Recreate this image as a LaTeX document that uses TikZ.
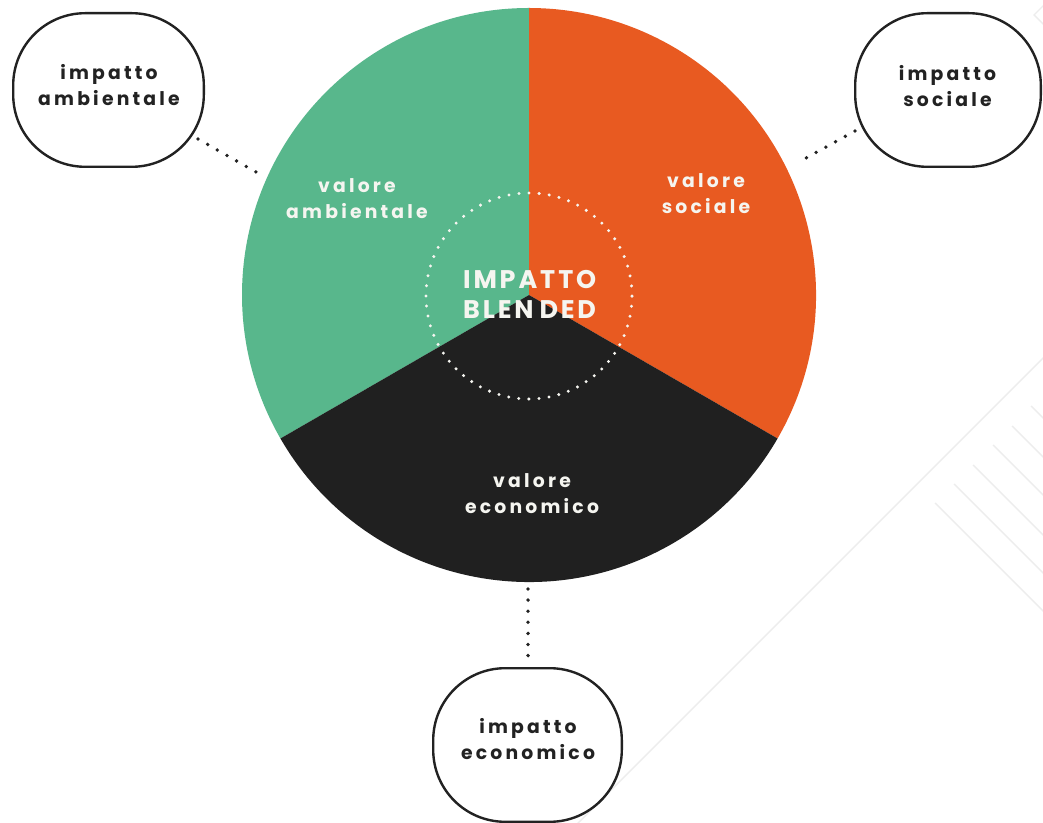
\documentclass[tikz,border=0pt]{standalone}
\usepackage{fontspec}
\newfontfamily\popf{Poppins}
\definecolor{vgreen}{HTML}{58B78C}
\definecolor{vorange}{HTML}{E85A21}
\definecolor{vblack}{HTML}{202020}
\definecolor{ink}{HTML}{222222}
\definecolor{paper}{HTML}{F5F5F0}
\definecolor{faint}{HTML}{EDEDED}
\begin{document}
\begin{tikzpicture}[x=1pt,y=1pt,
  impbox/.style={draw=ink, line width=2.4pt, fill=white, rounded corners=72pt,
     minimum width=#1, minimum height=153.6pt, inner sep=0pt},
  lbl/.style={align=center, inner sep=0pt,
     font=\popf\bfseries\addfontfeatures{LetterSpace=17}\fontsize{18.8}{26}\selectfont},
  ttl/.style={anchor=base west, inner sep=0pt, text=paper,
     font=\popf\bfseries\addfontfeatures{LetterSpace=11}\fontsize{25.5}{30}\selectfont},
  dotline/.style={draw=ink, line width=3.8pt, line cap=round, dash pattern=on 0pt off 11.1pt},
  bgline/.style={draw=faint, line width=1.4pt}]
\useasboundingbox (0,0) rectangle (1043,822);
\fill[white] (0,0) rectangle (1043,822);
% faint background lines
\draw[bgline] (560,-19) -- (1060,481);
\foreach \sx/\sy in {935/319,954/338,973/357,993/377,1012/396,1031/416}
  \draw[bgline] (\sx,\sy) -- ++(150,-150);
\draw[bgline] (1046,819) -- (1034,807) -- (1046,795);
% disc
\coordinate (c) at (529,527);
\node[circle, minimum size=574pt, inner sep=0pt] (disc) at (c) {};
\fill[vgreen] (c) -- ++(90:287) arc[start angle=90, end angle=210, radius=287] -- cycle;
\fill[vorange] (c) -- ++(-30:287) arc[start angle=-30, end angle=90, radius=287] -- cycle;
\fill[vblack] (c) -- ++(210:287) arc[start angle=210, end angle=330, radius=287] -- cycle;
\draw[paper, line width=3.3pt, line cap=round, dash pattern=on 0pt off 10.11pt] (529,526) circle[radius=103];
% sector labels
\node[lbl, text=paper] (vamb) at (357,623.6) {valore\\ambientale};
\node[lbl, text=paper] (vsoc) at (706,628) {valore\\sociale};
\node[lbl, text=paper] (veco) at (532,328.7) {valore\\economico};
\node[ttl] (bl1) at (463,533) {IMP\kern3pt AT\kern3pt TO};
\node[ttl] (bl2) at (463,503) {BLEN\kern6pt DED};
% outer boxes
\node[impbox=190.6pt] (amb) at (108.5,732) {};
\node[impbox=185.6pt] (soc) at (948,732) {};
\node[impbox=188.6pt] (eco) at (527.5,77) {};
\node[lbl, text=ink] (tamb) at (109,736.5) {impatto\\ambientale};
\node[lbl, text=ink] (tsoc) at (947.5,735.5) {impatto\\sociale};
\node[lbl, text=ink] (teco) at (528,83) {impatto\\economico};
% dotted connectors
\coordinate (a1) at (198,683); \coordinate (a2) at (256,650);
\coordinate (s1) at (855,691); \coordinate (s2) at (797,659);
\coordinate (e1) at (528,233); \coordinate (e2) at (528,166);
\draw[dotline] (a1) -- (a2);
\draw[dotline] (s1) -- (s2);
\draw[dotline] (e1) -- (e2);
\end{tikzpicture}
\end{document}
